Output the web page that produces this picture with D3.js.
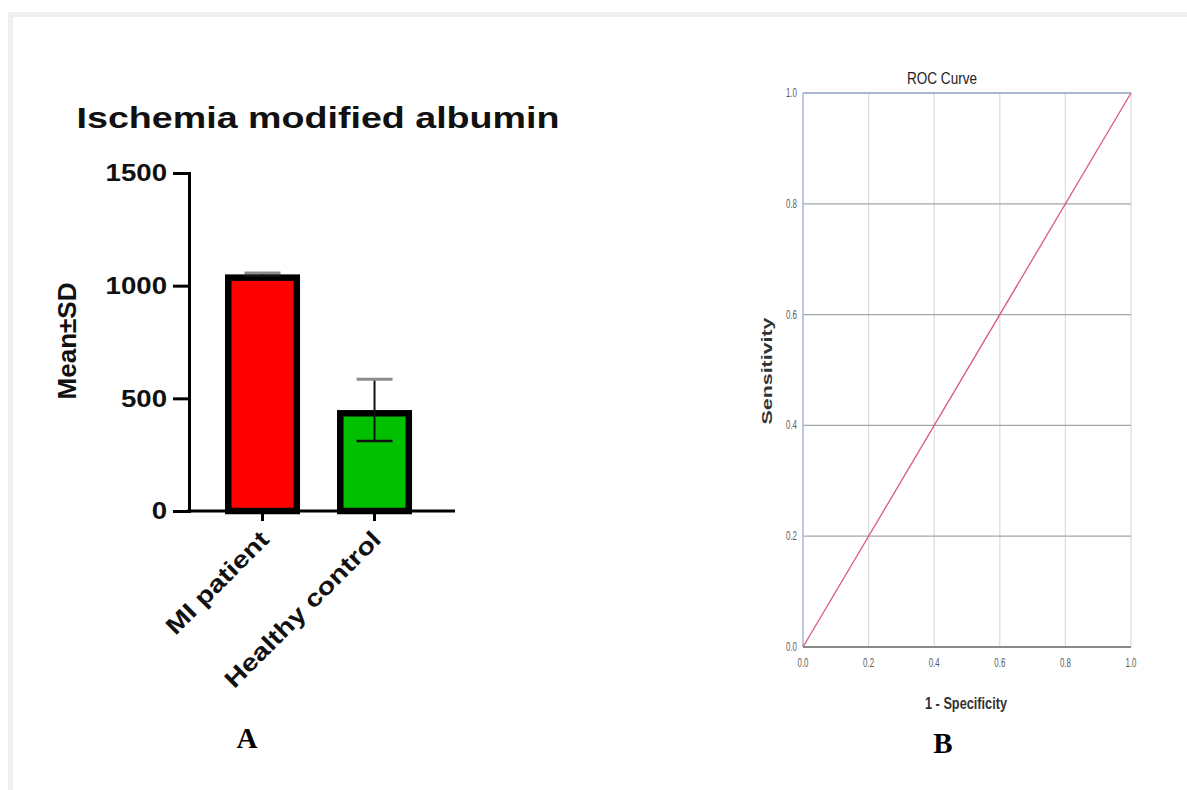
<!DOCTYPE html>
<html>
<head>
<meta charset="utf-8">
<script src="https://cdn.jsdelivr.net/npm/d3@7"></script>
<style>
  html, body { margin: 0; padding: 0; background: #fff; }
  svg { display: block; }
</style>
</head>
<body>
<svg id="fig" width="1187" height="790"></svg>
<script>
// ---- Panel A: Ischemia modified albumin (mean ± SD) ----
const groups = ["MI patient", "Healthy control"];
const means = [1050, 448];
const sds = [6, 137];
const barColors = ["#ff0000", "#00c000"];
const yTicksA = [0, 500, 1000, 1500];

// ---- Panel B: ROC curve ----
const fpr = [0, 1];          // 1 - Specificity
const tpr = [0, 1];          // Sensitivity
const rocTicks = [0, 0.2, 0.4, 0.6, 0.8, 1.0];
const rocTickLabels = ["0.0", "0.2", "0.4", "0.6", "0.8", "1.0"];

const svg = d3.select("#fig");

// figure frame (top and left edges)
svg.append("rect").attr("x", 8).attr("y", 12).attr("width", 1179).attr("height", 5).attr("fill", "#f0f0f0");
svg.append("rect").attr("x", 8).attr("y", 12).attr("width", 5).attr("height", 778).attr("fill", "#f0f0f0");

// stretch text horizontally to the wide lettering of the panel-A graphic
function widen(sel, k) {
  sel.each(function () {
    const w = this.getComputedTextLength();
    d3.select(this).attr("textLength", w * k).attr("lengthAdjust", "spacingAndGlyphs");
  });
}

// ================= Panel A =================
const A = svg.append("g");
const y = d3.scaleLinear().domain([0, 1500]).range([511, 173]);
const x = d3.scaleBand().domain(groups).range([189, 455]).paddingInner(0.33).paddingOuter(0.3525).align(0.456);
const border = 6.5;

const fontA = "'Liberation Sans', Arial, Helvetica, sans-serif";

// title
A.append("text")
  .attr("x", 318).attr("y", 128)
  .attr("text-anchor", "middle")
  .attr("font-family", fontA).attr("font-weight", "bold").attr("font-size", 29)
  .attr("fill", "#111")
  .text("Ischemia modified albumin")
  .attr("textLength", 483).attr("lengthAdjust", "spacingAndGlyphs");

// y axis
const yAxis = A.append("g")
  .attr("transform", "translate(189,0)")
  .call(d3.axisLeft(y).tickValues(yTicksA).tickSize(16).tickPadding(6).tickFormat(d3.format("d")));
yAxis.select(".domain").attr("stroke", "#000").attr("stroke-width", 3);
yAxis.selectAll(".tick line").attr("stroke", "#000").attr("stroke-width", 3);
yAxis.selectAll(".tick text")
  .attr("font-family", fontA).attr("font-weight", "bold").attr("font-size", 24).attr("fill", "#111")
  .call(widen, 1.15);

// y label
A.append("text")
  .attr("transform", "translate(76,341) rotate(-90)")
  .attr("text-anchor", "middle")
  .attr("font-family", fontA).attr("font-weight", "bold").attr("font-size", 25)
  .attr("fill", "#111")
  .text("Mean±SD")
  .attr("textLength", 117).attr("lengthAdjust", "spacingAndGlyphs");

// bars (border drawn inside the bar outline)
A.selectAll("rect.bar").data(groups).join("rect")
  .attr("class", "bar")
  .attr("x", d => x(d) + border / 2)
  .attr("width", x.bandwidth() - border)
  .attr("y", (d, i) => y(means[i]) + border / 2)
  .attr("height", (d, i) => y(0) - y(means[i]) - border / 2)
  .attr("fill", (d, i) => barColors[i])
  .attr("stroke", "#000").attr("stroke-width", border);

// x axis
const xAxis = A.append("g")
  .attr("transform", "translate(0,511)")
  .call(d3.axisBottom(x).tickSize(10).tickSizeOuter(0).tickFormat(""));
xAxis.select(".domain").attr("stroke", "#000").attr("stroke-width", 3).attr("d", "M187,0H455");
xAxis.selectAll(".tick line").attr("stroke", "#000").attr("stroke-width", 3);

// error bars
const eb = A.selectAll("g.err").data(groups).join("g").attr("class", "err");
eb.append("line")
  .attr("x1", d => x(d) + x.bandwidth() / 2).attr("x2", d => x(d) + x.bandwidth() / 2)
  .attr("y1", (d, i) => y(means[i] + sds[i])).attr("y2", (d, i) => y(means[i] - sds[i]))
  .attr("stroke", "#111").attr("stroke-width", 2);
eb.append("line")
  .attr("x1", d => x(d) + x.bandwidth() / 2 - 18).attr("x2", d => x(d) + x.bandwidth() / 2 + 18)
  .attr("y1", (d, i) => y(means[i] + sds[i])).attr("y2", (d, i) => y(means[i] + sds[i]))
  .attr("stroke", "#8c8c8c").attr("stroke-width", 3);
eb.append("line")
  .attr("x1", d => x(d) + x.bandwidth() / 2 - 18).attr("x2", d => x(d) + x.bandwidth() / 2 + 18)
  .attr("y1", (d, i) => y(means[i] - sds[i])).attr("y2", (d, i) => y(means[i] - sds[i]))
  .attr("stroke", "#111").attr("stroke-width", 2.5);

// category labels
A.selectAll("text.cat").data(groups).join("text")
  .attr("class", "cat")
  .attr("transform", d => `translate(${x(d) + x.bandwidth() / 2 + 8},${541}) rotate(-45)`)
  .attr("text-anchor", "end")
  .attr("font-family", fontA).attr("font-weight", "bold").attr("font-size", 24)
  .attr("fill", "#111")
  .text(d => d)
  .call(widen, 1.2);

// panel letter
A.append("text")
  .attr("x", 247).attr("y", 748)
  .attr("text-anchor", "middle")
  .attr("font-family", "'Liberation Serif', 'Times New Roman', serif").attr("font-weight", "bold").attr("font-size", 29)
  .attr("fill", "#000")
  .text("A");

// ================= Panel B =================
const B = svg.append("g");
const rx = d3.scaleLinear().domain([0, 1]).range([803, 1131]);
const ry = d3.scaleLinear().domain([0, 1]).range([647, 93]);
const fontB = "'Liberation Sans', Arial, sans-serif";

// vertical gridlines
B.selectAll("line.vg").data(rocTicks.slice(1)).join("line")
  .attr("class", "vg")
  .attr("x1", d => rx(d)).attr("x2", d => rx(d))
  .attr("y1", ry(0)).attr("y2", ry(1))
  .attr("stroke", "#d9dbe0").attr("stroke-width", 1.2);
// horizontal gridlines
B.selectAll("line.hg").data(rocTicks.slice(1, -1)).join("line")
  .attr("class", "hg")
  .attr("x1", rx(0)).attr("x2", rx(1))
  .attr("y1", d => ry(d)).attr("y2", d => ry(d))
  .attr("stroke", "#a3a6ad").attr("stroke-width", 1.2);
// frame: top and left in blue-grey, bottom axis in grey
B.append("line").attr("x1", rx(0)).attr("x2", rx(1)).attr("y1", ry(1)).attr("y2", ry(1))
  .attr("stroke", "#8d9fc4").attr("stroke-width", 1.5);
B.append("line").attr("x1", rx(0)).attr("x2", rx(0)).attr("y1", ry(1)).attr("y2", ry(0))
  .attr("stroke", "#a9b7d6").attr("stroke-width", 1.5);
B.append("line").attr("x1", rx(0)).attr("x2", rx(1)).attr("y1", ry(0)).attr("y2", ry(0))
  .attr("stroke", "#8a8a8a").attr("stroke-width", 2);

// ROC curve
B.append("path")
  .datum(fpr.map((f, i) => [f, tpr[i]]))
  .attr("d", d3.line().x(d => rx(d[0])).y(d => ry(d[1])))
  .attr("fill", "none").attr("stroke", "#dc5a78").attr("stroke-width", 1.3);

// tick labels (narrow lettering)
B.selectAll("text.yt").data(rocTicks).join("text")
  .attr("class", "yt")
  .attr("x", 797).attr("y", d => ry(d) + 4)
  .attr("text-anchor", "end")
  .attr("font-family", fontB).attr("font-size", 12).attr("fill", "#5a5a5a")
  .text((d, i) => rocTickLabels[i])
  .attr("textLength", 11).attr("lengthAdjust", "spacingAndGlyphs");
B.selectAll("text.xt").data(rocTicks).join("text")
  .attr("class", "xt")
  .attr("x", d => rx(d)).attr("y", 667)
  .attr("text-anchor", "middle")
  .attr("font-family", fontB).attr("font-size", 12).attr("fill", "#5a5a5a")
  .text((d, i) => rocTickLabels[i])
  .attr("textLength", 11).attr("lengthAdjust", "spacingAndGlyphs");

// titles
B.append("text")
  .attr("x", 942).attr("y", 84)
  .attr("text-anchor", "middle")
  .attr("font-family", fontB).attr("font-size", 16).attr("fill", "#222")
  .text("ROC Curve")
  .attr("textLength", 70).attr("lengthAdjust", "spacingAndGlyphs");
B.append("text")
  .attr("x", 966).attr("y", 709)
  .attr("text-anchor", "middle")
  .attr("font-family", fontB).attr("font-weight", "bold").attr("font-size", 16).attr("fill", "#333")
  .text("1 - Specificity")
  .attr("textLength", 82).attr("lengthAdjust", "spacingAndGlyphs");
B.append("text")
  .attr("transform", "translate(772,371) rotate(-90)")
  .attr("text-anchor", "middle")
  .attr("font-family", fontB).attr("font-weight", "bold").attr("font-size", 15)
  .attr("fill", "#333")
  .text("Sensitivity")
  .attr("textLength", 107).attr("lengthAdjust", "spacingAndGlyphs");

// panel letter
B.append("text")
  .attr("x", 943).attr("y", 753)
  .attr("text-anchor", "middle")
  .attr("font-family", "'Liberation Serif', 'Times New Roman', serif").attr("font-weight", "bold").attr("font-size", 29)
  .attr("fill", "#000")
  .text("B");
</script>
</body>
</html>
